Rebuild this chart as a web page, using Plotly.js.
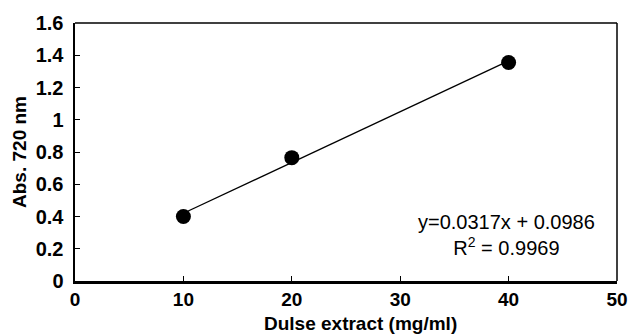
<!DOCTYPE html>
<html>
<head>
<meta charset="utf-8">
<script src="https://cdn.plot.ly/plotly-3.0.1.min.js"></script>
<style>html,body{margin:0;padding:0;background:#fff;}#chart{width:630px;height:335px;}</style>
</head>
<body>
<div id="chart"></div>
<script>
// Data
const concentration = [10, 20, 40];          // mg/ml
const absorbance = [0.40, 0.765, 1.355];     // Abs. 720 nm
const xTicks = [0, 10, 20, 30, 40, 50];
const yTicks = [0, 0.2, 0.4, 0.6, 0.8, 1, 1.2, 1.4, 1.6];
const equationText = "y=0.0317x + 0.0986";
const r2Text = "R<sup>2</sup> = 0.9969";

// least-squares trendline from the data
const n = concentration.length;
const mx = concentration.reduce((a,b)=>a+b,0)/n;
const my = absorbance.reduce((a,b)=>a+b,0)/n;
let sxy = 0, sxx = 0;
for (let i=0;i<n;i++){ sxy += (concentration[i]-mx)*(absorbance[i]-my); sxx += (concentration[i]-mx)**2; }
const slope = sxy/sxx, intercept = my - slope*mx;
const fitX = [Math.min(...concentration), Math.max(...concentration)];
const fitY = fitX.map(x => slope*x + intercept);

const font = "Liberation Sans, Arial, Helvetica, sans-serif";

const data = [
  {x: fitX, y: fitY, mode: 'lines', line: {color: '#000', width: 1.3}, hoverinfo: 'skip'},
  {x: concentration, y: absorbance, mode: 'markers', marker: {color: '#000', size: 15, symbol: 'circle'}}
];

const layout = {
  width: 630, height: 335,
  margin: {l: 75, r: 13, t: 23, b: 54},
  paper_bgcolor: '#fff', plot_bgcolor: '#fff',
  showlegend: false,
  font: {family: font, color: '#000'},
  xaxis: {
    range: [0, 50], tickvals: xTicks, ticktext: xTicks.map(String),
    showgrid: false, zeroline: false,
    showline: true, linecolor: '#000', linewidth: 2.5,
    ticks: 'inside', ticklen: 5, tickwidth: 1, tickcolor: '#000',
    tickfont: {family: font, size: 19, color: '#000', weight: 'bold'},
    ticklabelstandoff: 0
  },
  yaxis: {
    range: [0, 1.6], tickvals: yTicks, ticktext: yTicks.map(String),
    showgrid: false, zeroline: false,
    showline: true, linecolor: '#000', linewidth: 2.5,
    ticks: 'inside', ticklen: 5, tickwidth: 1, tickcolor: '#000',
    tickfont: {family: font, size: 20, color: '#000', weight: 'bold'},
    ticklabelstandoff: 5,
    title: {text: 'Abs. 720 nm', font: {family: font, size: 19, color: '#000', weight: 'bold'}, standoff: 4}
  },
  shapes: [
    {type: 'line', xref: 'paper', yref: 'paper', x0: 0, x1: 1, y0: 1, y1: 1, line: {color: '#000', width: 1.5}},
    {type: 'line', xref: 'paper', yref: 'paper', x0: 1, x1: 1, y0: 0, y1: 1, line: {color: '#000', width: 1.5}}
  ],
  annotations: [
    {xref: 'paper', yref: 'paper', x: 0.526, y: 0, yshift: -55, yanchor: 'bottom', showarrow: false,
     text: 'Dulse extract (mg/ml)', font: {family: font, size: 19, color: '#000', weight: 'bold'}},
    {xref: 'x', yref: 'y', x: 39.8, y: 0.285, showarrow: false, align: 'center',
     text: equationText + '<br>' + r2Text, font: {family: font, size: 20, color: '#000'}}
  ]
};

Plotly.newPlot('chart', data, layout, {displayModeBar: false, staticPlot: true});
</script>
</body>
</html>
